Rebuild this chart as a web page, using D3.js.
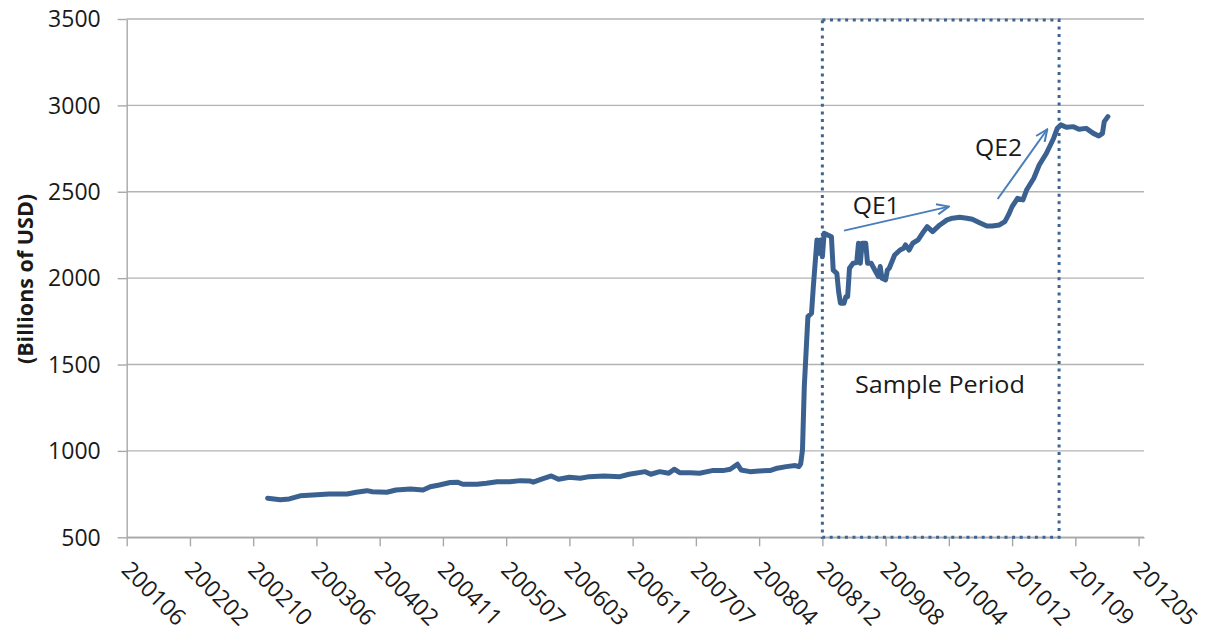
<!DOCTYPE html>
<html><head><meta charset="utf-8">
<script src="https://cdn.jsdelivr.net/npm/d3@7/dist/d3.min.js"></script>
<style>
body{margin:0;background:#fff}
text{font-family:"Open Sans",sans-serif;fill:#1a1a1a}
</style>
</head><body>
<svg id="chart" width="1227" height="635"></svg>
<script>
// Category tick labels, one every 35 weekly observations
const tickLabels = ["200106","200202","200210","200306","200402","200411","200507","200603","200611","200707","200804","200812","200908","201004","201012","201109","201205"];
const tickStep = 35;
const yTicks = [500,1000,1500,2000,2500,3000,3500];

// Weekly observation index (weeks since first category) and Fed total assets (billions USD)
const weekIndex = [78,85,90,96,103,112,122,127,133,136,144,149,157,164,168,173,179,183,186,194,199,205,212,218,223,225,230,235,239,245,251,256,264,273,278,287,290,295,300,303,306,312,317,324,330,334,338,340,345,350,356,360,365,370,372,373,374,375,377,379,380,382,383,384,385,386,388,390,391,393,394,395,397,398,399,400,402,404,405,406,407,409,410,412,414,416,417,418,420,421,422,425,428,430,431,433,435,438,441,443,446,450,454,457,461,465,468,472,476,479,483,486,488,490,493,496,498,502,505,509,513,515,517,520,524,527,531,535,538,540,541,543];
const assets = [726,717,722,740,745,751,751,761,770,764,761,774,780,774,793,803,817,819,807,807,813,822,822,828,826,819,838,855,836,848,842,851,855,851,865,880,865,880,871,894,874,874,871,886,886,894,923,890,880,884,886,900,909,915,909,925,1006,1372,1777,1797,1951,2221,2144,2221,2124,2260,2250,2240,2047,2028,1922,1855,1855,1893,1893,2057,2086,2090,2202,2086,2202,2202,2086,2086,2047,2009,2067,1999,1990,2047,2057,2134,2163,2173,2192,2163,2202,2221,2269,2298,2269,2308,2337,2347,2352,2347,2341,2321,2302,2302,2308,2327,2366,2414,2462,2453,2510,2578,2655,2723,2810,2867,2887,2873,2877,2862,2867,2838,2823,2838,2906,2935];

// Annotations (in data coordinates: week index, billions USD)
const samplePeriod = [385, 516];
const qe1Arrow = [[397, 2275], [455, 2414]];
const qe2Arrow = [[482, 2458], [509.5, 2862]];
const labels = [
  {text: "QE1", at: [401.8, 2371], len: 47},
  {text: "QE2", at: [469.5, 2707], len: 47},
  {text: "Sample Period", at: [403, 1334], len: 170}
];

const svg = d3.select("#chart");
svg.append("rect").attr("width",1227).attr("height",635).attr("fill","#fff");

const x = d3.scaleLinear().domain([0, 563]).range([126.7, 1144]);
const y = d3.scaleLinear().domain([500, 3500]).range([537.3, 19]);

// gridlines
svg.append("g").selectAll("line").data(yTicks).join("line")
  .attr("x1", x(0)).attr("x2", x(563))
  .attr("y1", d => y(d)).attr("y2", d => y(d))
  .attr("stroke", "#b3b3b3").attr("stroke-width", 1.4);

// y axis
const yAxis = svg.append("g").attr("transform", `translate(${x(0)},0)`)
  .call(d3.axisLeft(y).tickValues(yTicks).tickFormat(d3.format("d")).tickSize(9).tickSizeOuter(0).tickPadding(17));
yAxis.select(".domain").attr("stroke", "#a8a8a8").attr("stroke-width", 1.4);
yAxis.selectAll(".tick line").attr("stroke", "#a8a8a8").attr("stroke-width", 1.4);
yAxis.selectAll(".tick text").attr("font-size", 23).attr("font-family", "Open Sans").attr("fill", "#1a1a1a")
  .attr("dy", "0.34em");

// x axis
const xAxis = svg.append("g").attr("transform", `translate(0,${y(500)})`)
  .call(d3.axisBottom(x).tickValues(d3.range(0, tickLabels.length).map(i => i * tickStep))
    .tickFormat((d, i) => tickLabels[i]).tickSize(9).tickSizeOuter(0));
xAxis.select(".domain").attr("stroke", "#a8a8a8").attr("stroke-width", 1.4);
xAxis.selectAll(".tick line").attr("stroke", "#a8a8a8").attr("stroke-width", 1.4);
xAxis.selectAll(".tick text")
  .attr("x", 0).attr("y", 0).attr("dy", 0)
  .attr("transform", "translate(-7,34) rotate(45)")
  .style("text-anchor", "start")
  .attr("font-size", 23).attr("font-family", "Open Sans").attr("fill", "#1a1a1a");

// y axis title
svg.append("text")
  .attr("transform", "translate(24,279) rotate(-90)")
  .attr("text-anchor", "middle").attr("dominant-baseline", "central")
  .attr("font-size", 21.5).attr("font-weight", "bold")
  .text("(Billions of USD)");

// data line
const pts = weekIndex.map((w, i) => [w, assets[i]]);
svg.append("path").datum(pts)
  .attr("fill", "none").attr("stroke", "#3b6191").attr("stroke-width", 5)
  .attr("stroke-linejoin", "round").attr("stroke-linecap", "round")
  .attr("d", d3.line().x(d => x(d[0])).y(d => y(d[1])));

// sample period box
svg.append("rect")
  .attr("x", x(samplePeriod[0])).attr("y", y(3500) + 1)
  .attr("width", x(samplePeriod[1]) - x(samplePeriod[0]))
  .attr("height", y(500) - y(3500) - 1)
  .attr("fill", "none").attr("stroke", "#3e6492").attr("stroke-width", 3)
  .attr("stroke-dasharray", "3 4.6");

// arrows
const defs = svg.append("defs");
defs.append("marker").attr("id", "arrow")
  .attr("viewBox", "0 0 14 12").attr("refX", 13).attr("refY", 6)
  .attr("markerWidth", 14).attr("markerHeight", 12)
  .attr("markerUnits", "userSpaceOnUse").attr("orient", "auto")
  .append("path").attr("d", "M1,0.8 L13,6 L1,11.2")
  .attr("fill", "none").attr("stroke", "#4a7ebb").attr("stroke-width", 2);

[qe1Arrow, qe2Arrow].forEach(a => {
  svg.append("line")
    .attr("x1", x(a[0][0])).attr("y1", y(a[0][1]))
    .attr("x2", x(a[1][0])).attr("y2", y(a[1][1]))
    .attr("stroke", "#4a7ebb").attr("stroke-width", 2)
    .attr("marker-end", "url(#arrow)");
});

// annotation labels
svg.append("g").selectAll("text").data(labels).join("text")
  .attr("x", d => x(d.at[0])).attr("y", d => y(d.at[1]))
  .attr("font-size", 23.5)
  .attr("textLength", d => d.len).attr("lengthAdjust", "spacingAndGlyphs")
  .text(d => d.text);
</script>
</body></html>
